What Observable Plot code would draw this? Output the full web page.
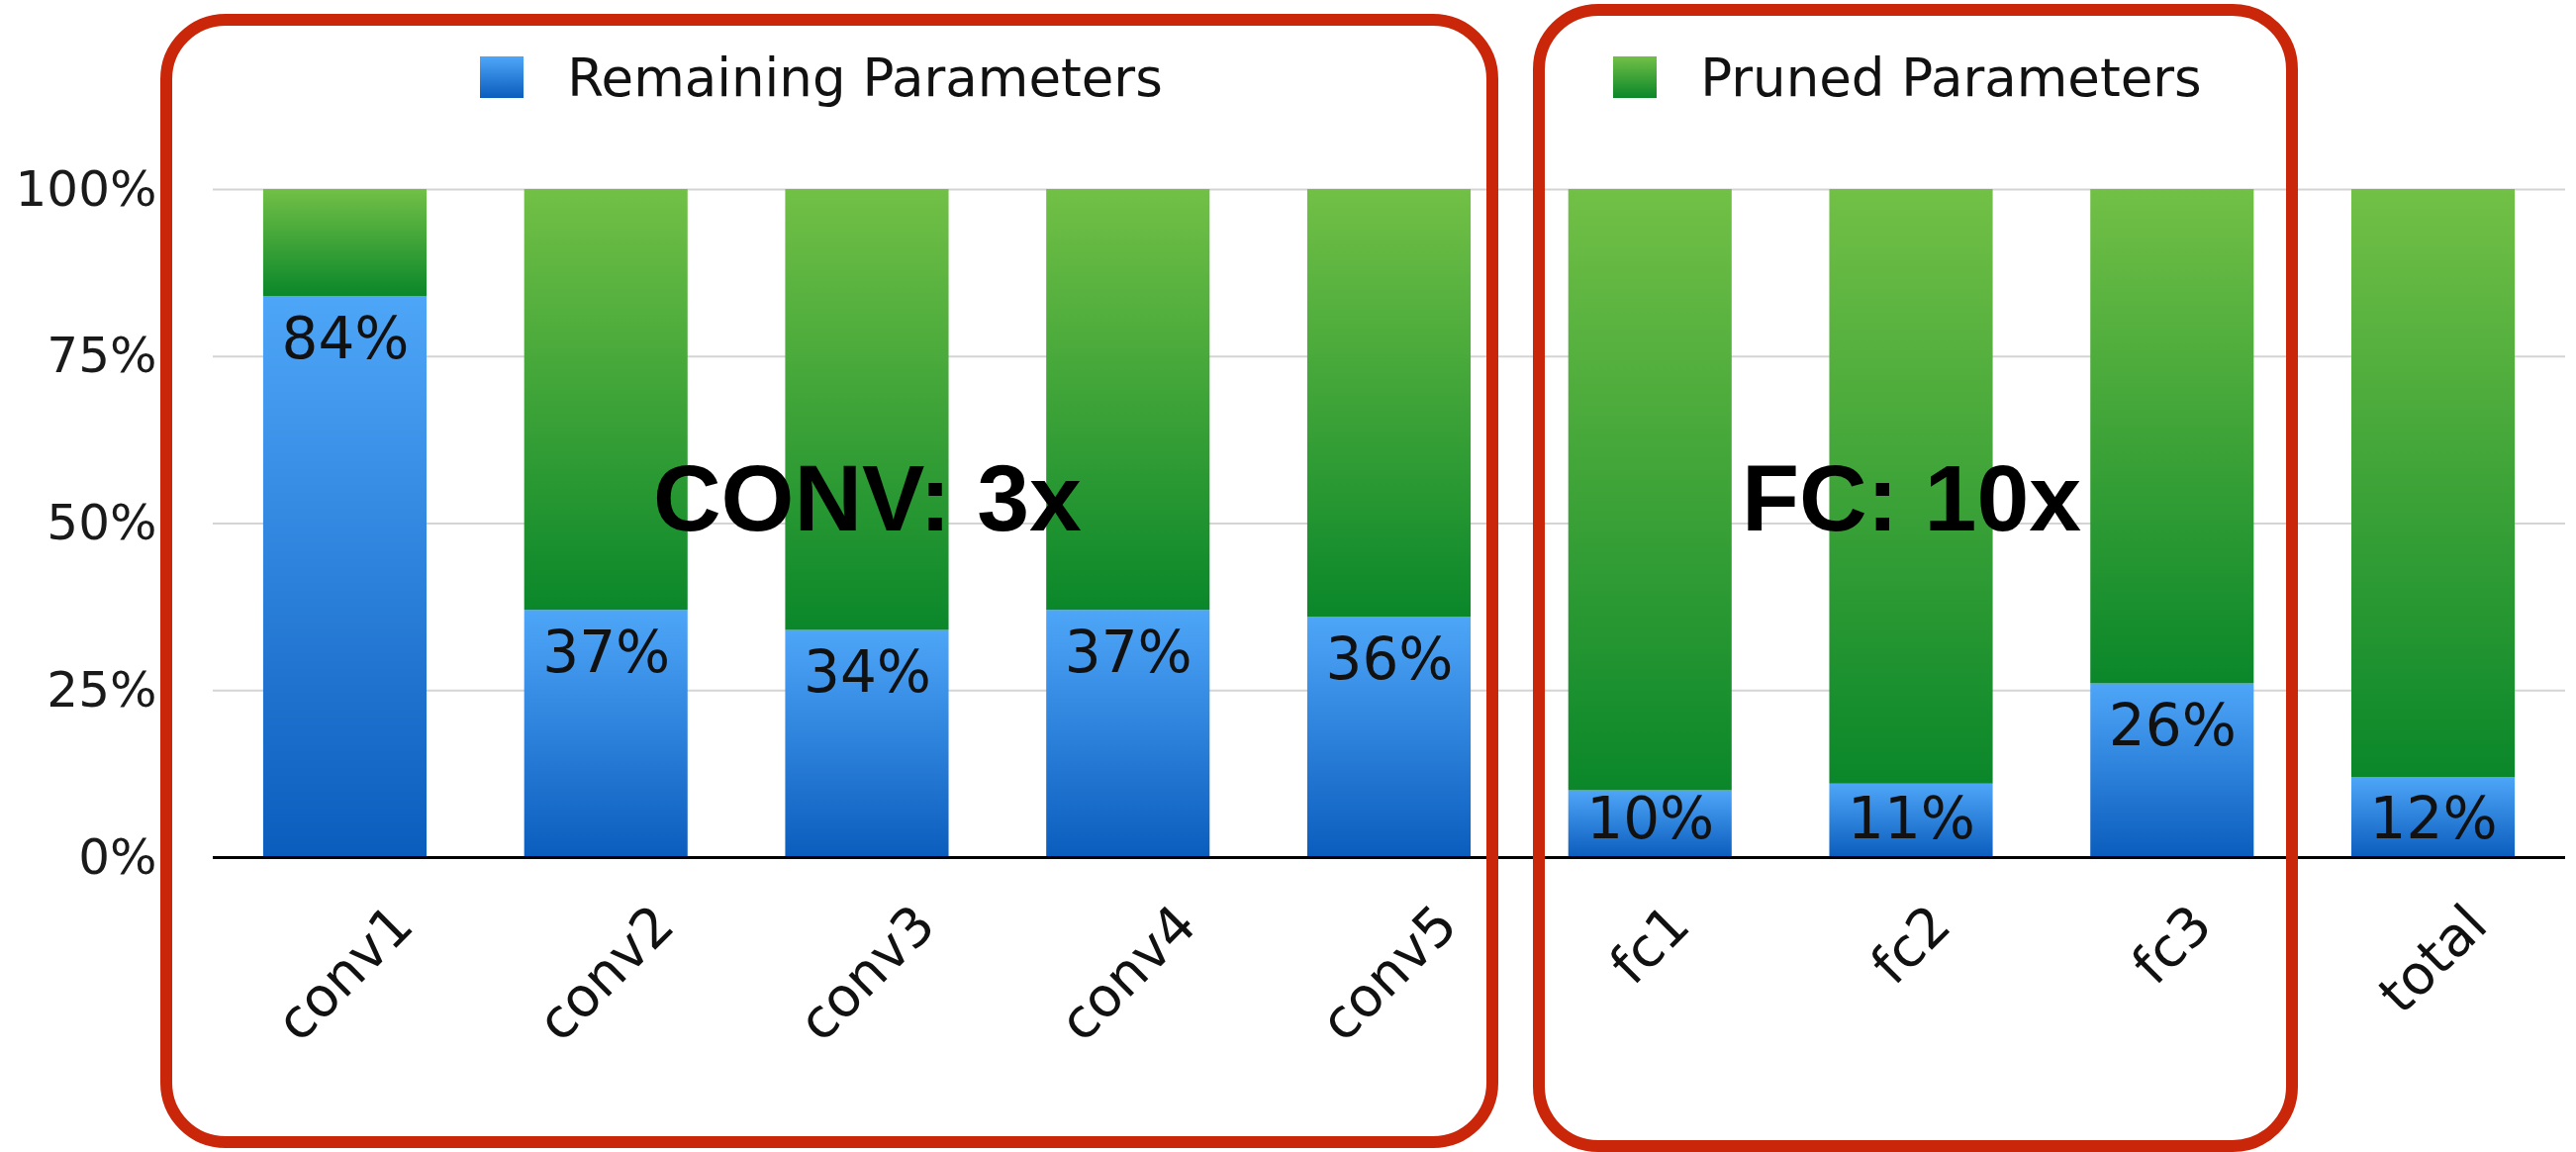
<!DOCTYPE html>
<html>
<head>
<meta charset="utf-8">
<script src="https://cdn.jsdelivr.net/npm/d3@7"></script>
<script src="https://cdn.jsdelivr.net/npm/@observablehq/plot@0.6"></script>
<style>
  html, body { margin: 0; padding: 0; background: #fff; }
  #wrap { position: relative; width: 2603px; height: 1164px; overflow: hidden; background: #fff; }
  #wrap > svg { position: absolute; left: 0; top: 0; }
  .box { position: absolute; border: 12px solid #c9260a; border-radius: 66px; box-sizing: border-box; pointer-events: none; }
  .leg { position: absolute; left: -16px; right: 0; top: 50px; height: 56px; display: flex; justify-content: center; align-items: center;
         font-family: "DejaVu Sans", sans-serif; font-size: 53px; color: #111; white-space: nowrap; }
  .sw { width: 44px; height: 42px; margin-right: 44px; flex: none; }
</style>
</head>
<body>
<div id="wrap"></div>
<script>
// ---- data ----
const layers = ["conv1", "conv2", "conv3", "conv4", "conv5", "fc1", "fc2", "fc3", "total"];
const remaining = [0.84, 0.37, 0.34, 0.37, 0.36, 0.10, 0.11, 0.26, 0.12];
const remainingLabels = ["84%", "37%", "34%", "37%", "36%", "10%", "11%", "26%", "12%"];
const yTicks = [0, 0.25, 0.5, 0.75, 1];
const yTickLabels = ["0%", "25%", "50%", "75%", "100%"];
const seriesNames = ["Remaining Parameters", "Pruned Parameters"];
const groupNames = ["CONV: 3x", "FC: 10x"];
const groupLayers = [["conv1", "conv2", "conv3", "conv4", "conv5"], ["fc1", "fc2", "fc3"]];
const groupCenters = ["conv3", "fc2"];

// ---- derived table ----
const rows = layers.map((layer, i) => ({layer, remaining: remaining[i], label: remainingLabels[i]}));
const groups = groupNames.map((name, i) => ({name, layers: groupLayers[i], at: groupCenters[i], legend: seriesNames[i]}));

// ---- styling ----
const W = 2603, H = 1164;
const M = {top: 191, bottom: 298, left: 215, right: 11};
const tickFont = 55;
const gradIds = ["gradRemaining", "gradPruned"];
const gradStops = [["#4ea6f8", "#0b5dbd"], ["#72c046", "#0a872a"]];

// rotated x labels: horizontally centered, tops aligned
const ctx = document.createElement("canvas").getContext("2d");
ctx.font = `${tickFont}px "DejaVu Sans"`;
const labelDy = (t) => 44 + 0.3536 * (ctx.measureText(t).width + 0.76 * tickFont);

const chart = Plot.plot({
  width: W, height: H,
  marginTop: M.top, marginBottom: M.bottom, marginLeft: M.left, marginRight: M.right,
  style: {fontFamily: "DejaVu Sans", background: "transparent", color: "#111"},
  x: {domain: layers, paddingInner: 0.374, paddingOuter: 0.193, align: 0.5, round: false, axis: null},
  y: {domain: [0, 1], axis: null},
  marks: [
    Plot.gridY(yTicks.filter(d => d > 0), {stroke: "#d4d4d4", strokeOpacity: 1, strokeWidth: 2}),
    Plot.axisY(yTicks, {
      tickSize: 0, tickPadding: 57, fontSize: 50, fill: "#1a1a1a", label: null,
      tickFormat: d => yTickLabels[yTicks.indexOf(d)]
    }),
    Plot.barY(rows, {x: "layer", y1: 0, y2: "remaining", fill: `url(#${gradIds[0]})`}),
    Plot.barY(rows, {x: "layer", y1: "remaining", y2: () => 1, fill: `url(#${gradIds[1]})`}),
    Plot.ruleY([0], {stroke: "#000", strokeWidth: 3}),
    ...layers.map(l => Plot.axisX([l], {
      tickSize: 0, tickPadding: 0, rotate: -45, textAnchor: "middle", lineAnchor: "middle",
      dy: labelDy(l), fontSize: tickFont, fill: "#111", label: null
    })),
    Plot.text(rows.filter(d => d.remaining >= 0.2), {
      x: "layer", y: "remaining", text: "label", lineAnchor: "top", dy: 21, fontSize: 58, fill: "#111"
    }),
    Plot.text(rows.filter(d => d.remaining < 0.2), {
      x: "layer", y: () => 0, text: "label", lineAnchor: "bottom", dy: -20, fontSize: 58, fill: "#111"
    }),
    Plot.text(groups, {
      x: "at", y: () => 0.5, text: "name", lineAnchor: "bottom", dy: 7,
      fontSize: 95, fontWeight: "bold", fontFamily: "Liberation Sans", fill: "#000"
    })
  ]
});

// gradients
const ns = "http://www.w3.org/2000/svg";
const defs = document.createElementNS(ns, "defs");
gradIds.forEach((id, i) => {
  const g = document.createElementNS(ns, "linearGradient");
  g.setAttribute("id", id);
  g.setAttribute("x1", "0"); g.setAttribute("y1", "0"); g.setAttribute("x2", "0"); g.setAttribute("y2", "1");
  gradStops[i].forEach((c, j) => {
    const s = document.createElementNS(ns, "stop");
    s.setAttribute("offset", String(j));
    s.setAttribute("stop-color", c);
    g.appendChild(s);
  });
  defs.appendChild(g);
});
chart.insertBefore(defs, chart.firstChild);

const wrap = document.getElementById("wrap");
wrap.appendChild(chart);

// group frames + legends, positioned from the x scale
const sx = chart.scale("x");
const band = d3.scaleBand().domain(sx.domain).range(sx.range)
  .paddingInner(sx.paddingInner).paddingOuter(sx.paddingOuter).align(sx.align ?? 0.5);
const framePad = [{l: 104, r: 28, t: 14, b: 1160}, {l: 36, r: 45, t: 4, b: 1164}];
groups.forEach((g, i) => {
  const p = framePad[i];
  const left = band(g.layers[0]) - p.l;
  const right = band(g.layers[g.layers.length - 1]) + band.bandwidth() + p.r;
  const div = document.createElement("div");
  div.className = "box";
  div.style.left = left + "px";
  div.style.top = p.t + "px";
  div.style.width = (right - left) + "px";
  div.style.height = (p.b - p.t) + "px";
  const leg = document.createElement("div");
  leg.className = "leg";
  leg.style.top = (50 - p.t - 12) + "px";
  const sw = document.createElement("div");
  sw.className = "sw";
  sw.style.background = `linear-gradient(to bottom, ${gradStops[i][0]}, ${gradStops[i][1]})`;
  const tx = document.createElement("span");
  tx.textContent = g.legend;
  leg.appendChild(sw); leg.appendChild(tx);
  div.appendChild(leg);
  wrap.appendChild(div);
});
</script>
</body>
</html>
